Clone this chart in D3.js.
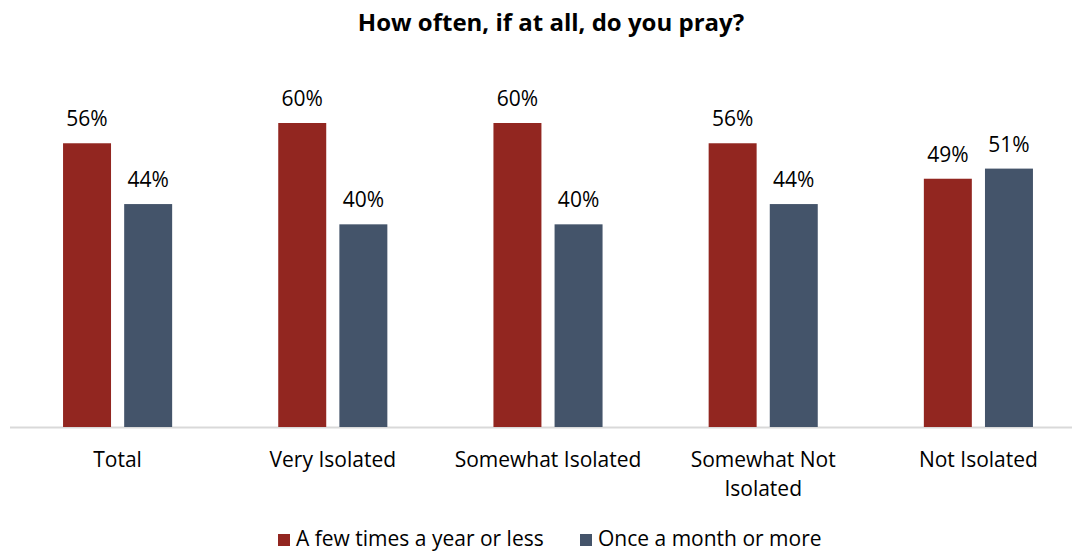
<!DOCTYPE html>
<html>
<head>
<meta charset="utf-8">
<script src="https://cdn.jsdelivr.net/npm/d3@7"></script>
<style>
  body { margin: 0; background: #fff; }
  svg { display: block; font-family: "Open Sans", sans-serif; }
</style>
</head>
<body>
<svg width="1072" height="552"></svg>
<script>
// data
var categories = ["Total", "Very Isolated", "Somewhat Isolated", "Somewhat Not Isolated", "Not Isolated"];
var categoryLines = [["Total"], ["Very Isolated"], ["Somewhat Isolated"], ["Somewhat Not", "Isolated"], ["Not Isolated"]];
var seriesNames = ["A few times a year or less", "Once a month or more"];
var fewTimes = [56, 60, 60, 56, 49];
var monthly = [44, 40, 40, 44, 51];
var colors = ["#922620", "#44546a"];

var svg = d3.select("svg");

var xScale = d3.scaleBand().domain(categories).range([10, 1086]).paddingInner(0.493).paddingOuter(0.2465);
var x1 = d3.scaleBand().domain(seriesNames).range([0, xScale.bandwidth()]).paddingInner(0.215);
var yScale = d3.scaleLinear().domain([0, 60]).range([427, 123]);

svg.append("text")
    .attr("x", 551).attr("y", 31)
    .attr("text-anchor", "middle")
    .attr("font-weight", "bold").attr("font-size", 24)
    .attr("fill", "#000")
    .text("How often, if at all, do you pray?");

// axis line
svg.append("line")
    .attr("x1", 10).attr("x2", 1072)
    .attr("y1", yScale(0) + 0.5).attr("y2", yScale(0) + 0.5)
    .attr("stroke", "#d9d9d9").attr("stroke-width", 2);

var rows = categories.map(function (c, i) {
    return { cat: c, values: [fewTimes[i], monthly[i]] };
});

var groups = svg.selectAll("g.cat").data(rows).enter().append("g")
    .attr("class", "cat")
    .attr("transform", function (d) { return "translate(" + xScale(d.cat) + ",0)"; });

groups.selectAll("rect").data(function (d) {
    return d.values.map(function (v, j) { return { s: seriesNames[j], v: v, j: j }; });
}).enter().append("rect")
    .attr("x", function (d) { return x1(d.s); })
    .attr("width", x1.bandwidth())
    .attr("y", function (d) { return yScale(d.v); })
    .attr("height", function (d) { return yScale(0) - yScale(d.v); })
    .attr("fill", function (d) { return colors[d.j]; });

groups.selectAll("text.val").data(function (d) {
    return d.values.map(function (v, j) { return { s: seriesNames[j], v: v }; });
}).enter().append("text")
    .attr("class", "val")
    .attr("x", function (d) { return x1(d.s) + x1.bandwidth() / 2; })
    .attr("y", function (d) { return yScale(d.v) - 17; })
    .attr("text-anchor", "middle")
    .attr("font-size", 21)
    .attr("fill", "#000")
    .text(function (d) { return d.v + "%"; });

// category labels
svg.selectAll("text.cat").data(categories).enter().append("text")
    .attr("class", "cat")
    .attr("x", function (d) { return xScale(d) + xScale.bandwidth() / 2; })
    .attr("y", 467)
    .attr("text-anchor", "middle")
    .attr("font-size", 21)
    .attr("fill", "#000")
    .each(function (d, i) {
        var t = d3.select(this);
        categoryLines[i].forEach(function (line, k) {
            t.append("tspan").attr("x", xScale(d) + xScale.bandwidth() / 2)
                .attr("dy", k === 0 ? 0 : 29).text(line);
        });
    });

// legend
var legendX = [278, 580];
var legend = svg.selectAll("g.legend").data(seriesNames).enter().append("g")
    .attr("class", "legend")
    .attr("transform", function (d, i) { return "translate(" + legendX[i] + ",534)"; });
legend.append("rect").attr("width", 12).attr("height", 12)
    .attr("fill", function (d, i) { return colors[i]; });
legend.append("text").attr("x", 18).attr("y", 12)
    .attr("font-size", 21).attr("fill", "#000")
    .text(function (d) { return d; });
</script>
</body>
</html>
